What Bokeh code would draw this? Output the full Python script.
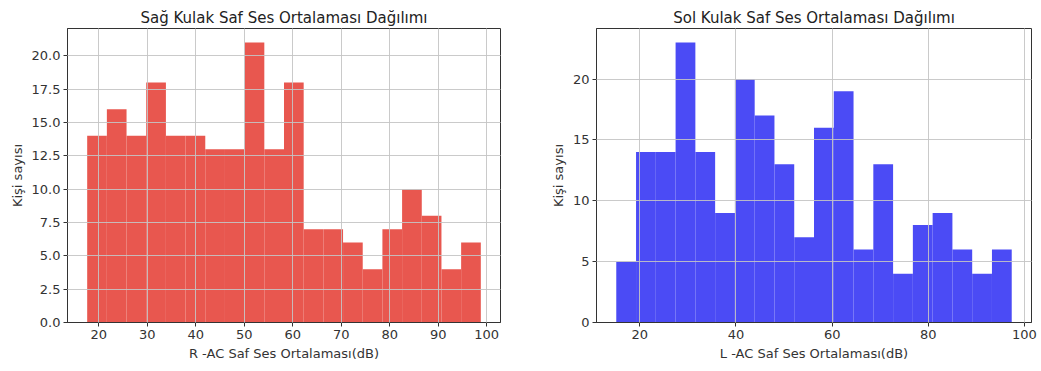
import numpy as np
from bokeh.plotting import figure
from bokeh.layouts import row
from bokeh.models import Range1d, FixedTicker, NumeralTickFormatter
from bokeh.embed import file_html
from bokeh.resources import INLINE

# ---- data ----
right_ear_bin_start = 17.6
right_ear_bin_end = 98.8
right_ear_counts = [14, 16, 14, 18, 14, 14, 13, 13, 21, 13, 18, 7, 7, 6, 4, 7, 10, 8, 4, 6]

left_ear_bin_start = 15.1
left_ear_bin_end = 97.35
left_ear_counts = [5, 14, 14, 23, 14, 9, 20, 17, 13, 7, 16, 19, 6, 13, 4, 8, 9, 6, 4, 6]

right_x_ticks = [20, 30, 40, 50, 60, 70, 80, 90, 100]
right_y_ticks = [0, 2.5, 5, 7.5, 10, 12.5, 15, 17.5, 20]
left_x_ticks = [20, 40, 60, 80, 100]
left_y_ticks = [0, 5, 10, 15, 20]

titles = ["Sağ Kulak Saf Ses Ortalaması Dağılımı", "Sol Kulak Saf Ses Ortalaması Dağılımı"]
x_labels = ["R -AC Saf Ses Ortalaması(dB)", "L -AC Saf Ses Ortalaması(dB)"]
y_label = "Kişi sayısı"

FONT = "DejaVu Sans"


def hist_fig(counts, start, end, color, title, xlabel, xticks, yticks, yfmt,
             width, min_left, min_right, min_top, min_bottom):
    edges = np.linspace(start, end, len(counts) + 1)
    span = end - start
    x0, x1 = start - 0.05 * span, end + 0.05 * span
    ymax = max(counts) * 1.05
    p = figure(width=width, height=371, output_backend="svg", toolbar_location=None,
               x_range=Range1d(x0, x1), y_range=Range1d(0, ymax),
               min_border_left=min_left, min_border_right=min_right,
               min_border_top=min_top, min_border_bottom=min_bottom)
    p.quad(left=edges[:-1], right=edges[1:], top=counts, bottom=0,
           fill_color=color, line_color=None)
    p.title.text = title
    p.title.align = "center"
    p.title.text_font = FONT
    p.title.text_font_size = "15px"
    p.title.text_font_style = "normal"
    p.title.text_color = "#222222"
    p.title.standoff = 3
    p.title.offset = 0
    p.xaxis.axis_label = xlabel
    p.yaxis.axis_label = y_label
    for ax in (p.xaxis[0], p.yaxis[0]):
        ax.axis_label_text_font = FONT
        ax.axis_label_text_font_size = "13px"
        ax.axis_label_text_font_style = "normal"
        ax.axis_label_text_color = "#333333"
        ax.axis_label_standoff = 4
        ax.major_label_text_font = FONT
        ax.major_label_text_font_size = "13px"
        ax.major_label_text_color = "#333333"
        ax.major_tick_in = 0
        ax.major_tick_out = 4
        ax.major_tick_line_color = "#333333"
        ax.minor_tick_line_color = None
        ax.axis_line_color = "#333333"
        ax.major_label_standoff = 3
    p.xaxis.ticker = FixedTicker(ticks=xticks)
    p.yaxis.ticker = FixedTicker(ticks=yticks)
    p.yaxis.formatter = NumeralTickFormatter(format=yfmt)
    for g in (p.xgrid[0], p.ygrid[0]):
        g.level = "overlay"
        g.grid_line_color = "#c4c4c4"
        g.grid_line_alpha = 0.9
        g.grid_line_width = 1
    p.outline_line_color = "#333333"
    p.outline_line_alpha = 1
    p.background_fill_color = "white"
    p.border_fill_color = "white"
    return p


p1 = hist_fig(right_ear_counts, right_ear_bin_start, right_ear_bin_end, "#E8574F",
              titles[0], x_labels[0], right_x_ticks, right_y_ticks, "0.0",
              520, 67, 20, 27, 47)
p2 = hist_fig(left_ear_counts, left_ear_bin_start, left_ear_bin_end, "#4B4BF5",
              titles[1], x_labels[1], left_x_ticks, left_y_ticks, "0",
              521, 76, 10, 28, 49)

layout = row(p1, p2)
open("out.html", "w").write(file_html(layout, INLINE))
